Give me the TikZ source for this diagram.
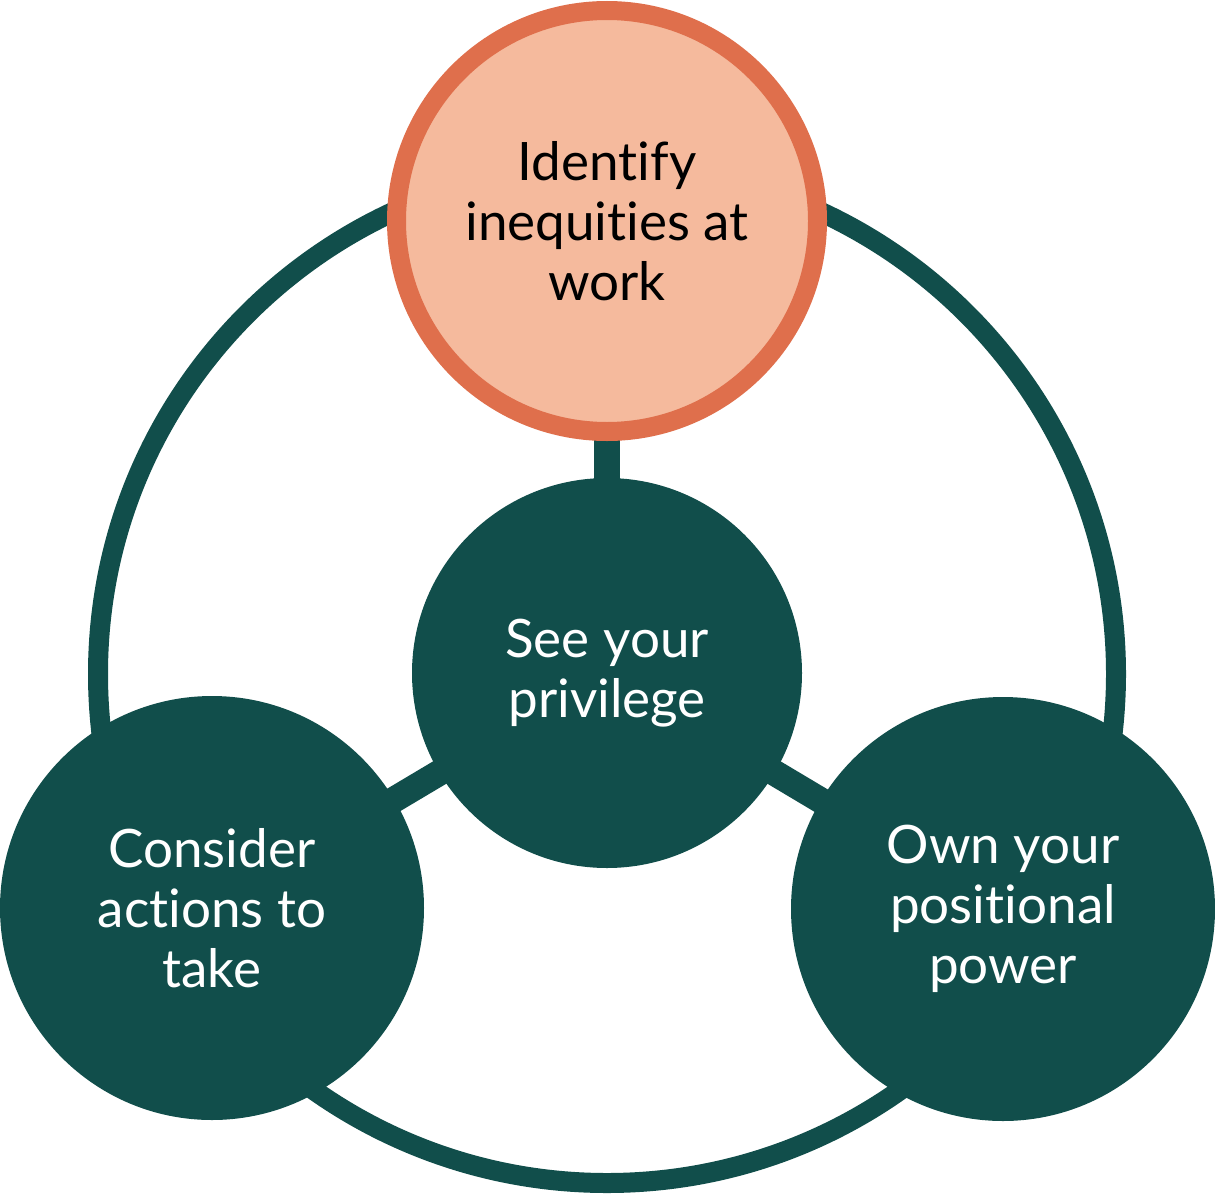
\documentclass[tikz,border=0pt]{standalone}
\usepackage{fontspec}
\setmainfont{Lato}[Ligatures=CommonOff]
\usetikzlibrary{backgrounds}
\definecolor{pine}{HTML}{114E4B}
\definecolor{rust}{HTML}{DF6F4C}
\definecolor{peach}{HTML}{F5BA9D}
\begin{document}
\begin{tikzpicture}[x=0.5pt, y=-0.5pt,
	every node/.style={circle, inner sep=0pt, align=center, font=\fontsize{26.5pt}{30pt}\selectfont},
	stage/.style={fill=pine, text=white, minimum size=212pt},
	hub/.style={fill=pine, text=white, minimum size=195pt},
	goal/.style={fill=peach, draw=rust, line width=9.5pt, text=black, minimum size=210.5pt},
	link/.style={pine, line width=13pt}]

\useasboundingbox (0,0) rectangle (1215,1194);

\node[hub] (see) at (607,673) {See your\\privilege};
\node[goal] (id) at (607,221) {Identify\\inequities at\\work};
\node[stage] (cons) at (212,908) {Consider\\actions to\\take};
\node[stage] (own) at (1003,909) {Own your\\positional\\power};

\begin{scope}[on background layer]
\draw[pine, line width=10pt] (607,674) circle[radius=254.5pt];
\foreach \u \v in {
see/id%
,see/cons%
,see/own%
}{
	\draw[link] (\u.center) -- (\v.center);
}
\end{scope}

\end{tikzpicture}
\end{document}
